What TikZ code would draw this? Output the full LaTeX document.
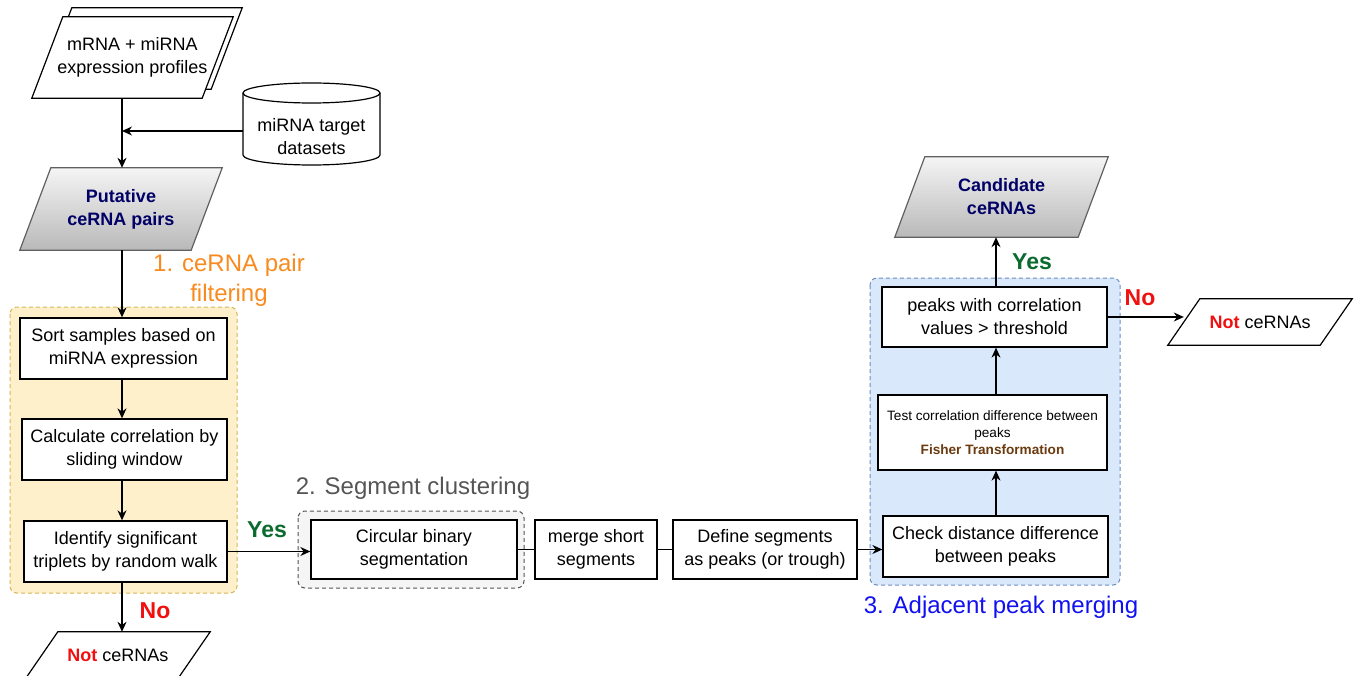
\documentclass[tikz,border=0pt]{standalone}
\usepackage{fontspec}
\setmainfont{Liberation Sans}
\usetikzlibrary{arrows.meta,calc}
\pgfdeclarelayer{grp}
\pgfdeclarelayer{shp}
\pgfsetlayers{grp,shp,main}
\definecolor{navy}{HTML}{000066}
\definecolor{orng}{HTML}{F98A1E}
\definecolor{grn}{HTML}{0B6B2E}
\definecolor{brwn}{HTML}{6B3A0F}
\definecolor{blu}{HTML}{1010F0}
\definecolor{redc}{HTML}{F01010}
\definecolor{ofill}{HTML}{FFF0CC}
\definecolor{ostroke}{HTML}{D6B656}
\definecolor{bfill}{HTML}{DAE8FC}
\definecolor{bstroke}{HTML}{6C8EBF}
\definecolor{gfill}{HTML}{F5F5F5}
\definecolor{gstroke}{HTML}{555555}
\tikzset{
  txt/.style={font=\fontsize{18}{23}\selectfont, align=center, inner sep=0pt},
  box/.style={txt, draw=black, line width=1.3pt, fill=white},
  arr/.style={-{Stealth[length=10pt,width=9pt]}, line width=1.2pt},
  conn/.style={line width=1.2pt},
  pshape/.style={draw=black, line width=1.2pt, fill=white},
  gshape/.style={draw=gray!75!black, line width=1.2pt, top color=gray!8, bottom color=gray!55},
  grpbox/.style={dashed, line width=1pt, rounded corners=7pt, dash pattern=on 4pt off 3pt},
  glabel/.style={font=\fontsize{24}{30}\selectfont, align=center, inner sep=0pt},
  yn/.style={font=\fontsize{23}{25}\selectfont\bfseries, inner sep=0pt},
}
\begin{document}
\begin{tikzpicture}[x=1pt,y=-1pt]
\useasboundingbox (0,0) rectangle (1359,676);

% groups
\begin{pgfonlayer}{grp}
\draw[grpbox, draw=ostroke, fill=ofill] (10,307) rectangle (237,593);
\draw[grpbox, draw=gstroke, fill=gfill] (298,511) rectangle (524,588);
\draw[grpbox, draw=bstroke, fill=bfill] (870,278) rectangle (1120,585);
\end{pgfonlayer}

% document stack
\node[txt, minimum width=170pt, minimum height=81pt] (doc) at (132.5,57.5) {mRNA + miRNA\\expression profiles};
\begin{pgfonlayer}{shp}
\draw[pshape] ($(doc.north west)+(24.5,-9)$) -- ($(doc.north east)+(24.5,-9)$) -- ($(doc.south east)+(-6.5,-9)$) -- ($(doc.south west)+(-6.5,-9)$) -- cycle;
\draw[pshape] ($(doc.north west)+(15.5,0)$) -- ($(doc.north east)+(15.5,0)$) -- ($(doc.south east)+(-15.5,0)$) -- ($(doc.south west)+(-15.5,0)$) -- cycle;
\end{pgfonlayer}

% cylinder
\node[txt, minimum width=137pt, minimum height=56pt] (cyl) at (311.5,137) {miRNA target\\datasets};
\begin{pgfonlayer}{shp}
\draw[pshape] (243,93) -- (243,155) arc[start angle=180, end angle=0, x radius=68.5, y radius=10] -- (380,93);
\draw[pshape] (311.5,93) ellipse [x radius=68.5, y radius=10];
\end{pgfonlayer}

% putative
\node[txt, font=\fontsize{18}{23}\selectfont\bfseries, text=navy, minimum width=171pt, minimum height=82pt] (put) at (121,209) {Putative\\ceRNA pairs};
\begin{pgfonlayer}{shp}
\draw[gshape] ($(put.north west)+(15.5,0)$) -- ($(put.north east)+(15.5,0)$) -- ($(put.south east)+(-15.5,0)$) -- ($(put.south west)+(-15.5,0)$) -- cycle;
\end{pgfonlayer}

% stage 1 boxes
\node[box, minimum width=207pt, minimum height=61pt] (sort) at (123.5,348.5) {Sort samples based on\\miRNA expression};
\node[box, minimum width=205pt, minimum height=61pt] (calc) at (124.5,449.5) {Calculate correlation by\\sliding window};
\node[box, minimum width=203pt, minimum height=61pt] (ident) at (125.5,551.5) {Identify significant\\triplets by random walk};

% not ceRNAs left
\node[txt, minimum width=152pt, minimum height=46pt] (notl) at (118,655) {\textcolor{redc}{\bfseries Not} ceRNAs};
\begin{pgfonlayer}{shp}
\draw[pshape] ($(notl.north west)+(16,0)$) -- ($(notl.north east)+(16,0)$) -- ($(notl.south east)+(-16,0)$) -- ($(notl.south west)+(-16,0)$) -- cycle;
\end{pgfonlayer}

% stage 2 boxes
\node[box, minimum width=206pt, minimum height=59pt] (cbs) at (414,549.5) {Circular binary\\segmentation};
\node[box, minimum width=122pt, minimum height=59pt] (merge) at (596,549.5) {merge short\\segments};
\node[box, minimum width=184pt, minimum height=59pt] (def) at (765,549.5) {Define segments\\as peaks (or trough)};

% stage 3 boxes
\node[box, minimum width=225pt, minimum height=61pt] (check) at (995.5,546.5) {Check distance difference\\between peaks};
\node[box, font=\fontsize{13.6}{17}\selectfont, minimum width=229pt, minimum height=75pt] (test) at (992.5,432.5) {Test correlation difference between\\peaks\\\textcolor{brwn}{\bfseries Fisher Transformation}};
\node[box, minimum width=225pt, minimum height=60pt] (peaks) at (994.5,317) {peaks with correlation\\values {>} threshold};

% candidate
\node[txt, font=\fontsize{18}{23}\selectfont\bfseries, text=navy, minimum width=183pt, minimum height=80pt] (cand) at (1001.5,197) {Candidate\\ceRNAs};
\begin{pgfonlayer}{shp}
\draw[gshape] ($(cand.north west)+(15,0)$) -- ($(cand.north east)+(15,0)$) -- ($(cand.south east)+(-15,0)$) -- ($(cand.south west)+(-15,0)$) -- cycle;
\end{pgfonlayer}

% not ceRNAs right
\node[txt, minimum width=152pt, minimum height=46pt] (notr) at (1260,322) {\textcolor{redc}{\bfseries Not} ceRNAs};
\begin{pgfonlayer}{shp}
\draw[pshape] ($(notr.north west)+(16,0)$) -- ($(notr.north east)+(16,0)$) -- ($(notr.south east)+(-16,0)$) -- ($(notr.south west)+(-16,0)$) -- cycle;
\end{pgfonlayer}

% connectors
\draw[arr] (doc.south -| 122,0) -- (put.north -| 122,0);
\draw[arr] ([yshift=6pt]cyl.west) -- ([yshift=6pt]cyl.west -| 122,0);
\draw[arr] (put.south -| 122,0) -- (sort.north -| 122,0);
\draw[arr] (sort.south -| 122,0) -- (calc.north -| 122,0);
\draw[arr] (calc.south -| 122,0) -- (ident.north -| 122,0);
\draw[arr] (ident.south -| 122,0) -- (notl.north -| 122,0);
\draw[arr] (ident.east) -- (ident.east -| cbs.west);
\draw[conn] (cbs.east) -- (merge.west);
\draw[conn] (merge.east) -- (def.west);
\draw[arr] (def.east) -- (def.east -| check.west);
\draw[arr] (check.north -| 996,0) -- (test.south -| 996,0);
\draw[arr] (test.north -| 996,0) -- (peaks.south -| 996,0);
\draw[arr] (peaks.north -| 996,0) -- (cand.south -| 996,0);
\draw[arr] (peaks.east) -- (peaks.east -| notr.west);

% labels
\node[glabel, text=orng] (l1) at (229,280) {1. ceRNA pair\\filtering};
\node[glabel, text=gstroke] (l2) at (413,488) {2. Segment clustering};
\node[glabel, text=blu] (l3) at (1001,607) {3. Adjacent peak merging};
\node[yn, text=grn] (y1) at (267,530) {Yes};
\node[yn, text=grn] (y2) at (1032,262) {Yes};
\node[yn, text=redc] (n1) at (155,611) {No};
\node[yn, text=redc] (n2) at (1140,298) {No};
\end{tikzpicture}
\end{document}
